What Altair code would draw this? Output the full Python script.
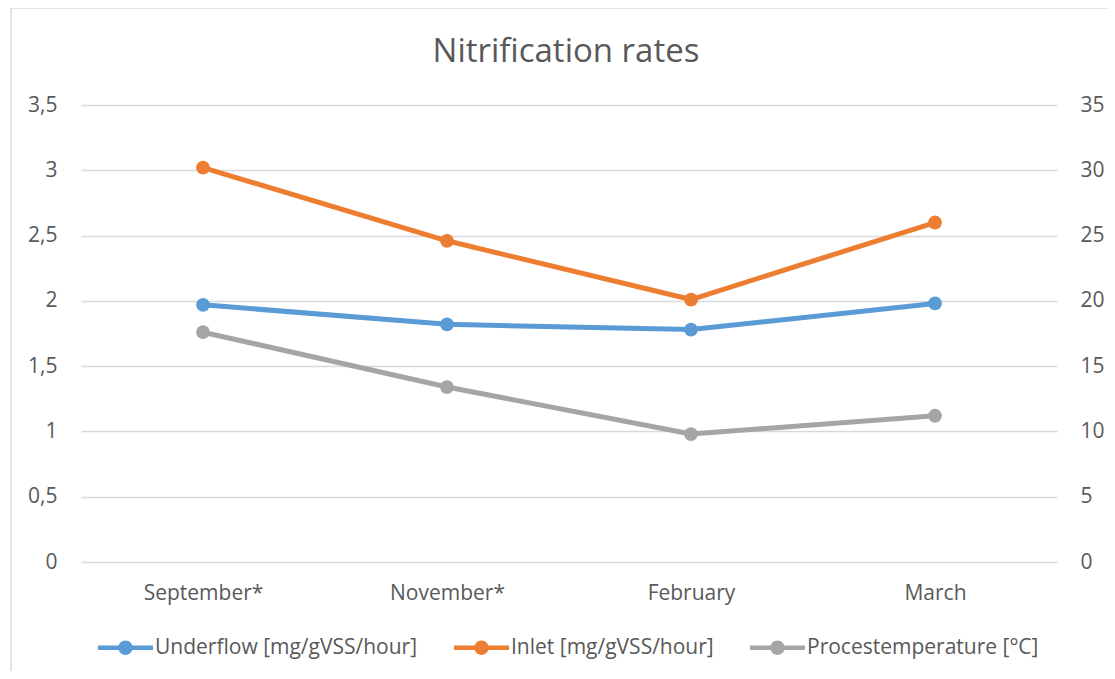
import altair as alt
import pandas as pd

months = ["September*", "November*", "February", "March"]
underflow = [1.97, 1.82, 1.78, 1.98]
inlet = [3.02, 2.46, 2.01, 2.60]
temperature = [17.6, 13.4, 9.8, 11.2]

s_under = "Underflow [mg/gVSS/hour]"
s_inlet = "Inlet [mg/gVSS/hour]"
s_temp = "Procestemperature [°C]"
series_names = [s_under, s_inlet, s_temp]
colors = ["#5B9BD5", "#ED7D31", "#A5A5A5"]
chart_title = "Nitrification rates"

rows = []
for name, vals in [(s_under, underflow), (s_inlet, inlet), (s_temp, temperature)]:
    for m, v in zip(months, vals):
        rows.append({"month": m, "series": name, "value": v})
df = pd.DataFrame(rows)

FONT = "Open Sans"
TXT = "#595959"
GRID = "#D9D9D9"
FS = 21

# legend symbol: line with a dot in the middle
sym = ("M -1 -0.08 L 1 -0.08 L 1 0.08 L -1 0.08 Z "
       "M 0.26 0 A 0.26 0.26 0 1 1 -0.26 0 A 0.26 0.26 0 1 1 0.26 0 Z")

color = alt.Color(
    "series:N",
    scale=alt.Scale(domain=series_names, range=colors),
    legend=alt.Legend(
        title=None, orient="none", legendX=17, legendY=515,
        direction="horizontal", symbolType=sym, symbolSize=3025,
        symbolStrokeWidth=0, labelOffset=2, columnPadding=36, labelLimit=500,
        labelFont=FONT, labelFontSize=FS, labelColor=TXT, padding=0,
    ),
)

x = alt.X("month:N", sort=months, title=None,
          axis=alt.Axis(labelAngle=0, ticks=False, domain=False, labelFont=FONT,
                        labelFontSize=FS, labelColor=TXT, labelPadding=20))

base = alt.Chart(df)

y_left = alt.Y("value:Q", title=None,
               scale=alt.Scale(domain=[0, 3.5], nice=False),
               axis=alt.Axis(values=[0, 0.5, 1, 1.5, 2, 2.5, 3, 3.5], orient="left",
                             labelExpr="replace(toString(datum.value), '.', ',')",
                             ticks=False, domain=False, grid=True, gridColor=GRID,
                             gridWidth=1.3, labelFont=FONT, labelFontSize=FS,
                             labelColor=TXT, labelPadding=24))
y_right = alt.Y("value:Q", title=None,
                scale=alt.Scale(domain=[0, 35], nice=False),
                axis=alt.Axis(values=[0, 5, 10, 15, 20, 25, 30, 35], orient="right",
                              ticks=False, domain=False, grid=False, labelFont=FONT,
                              labelFontSize=FS, labelColor=TXT, labelPadding=23))

left_data = base.transform_filter(alt.FieldOneOfPredicate(field="series", oneOf=[s_under, s_inlet]))
right_data = base.transform_filter(alt.datum.series == s_temp)

line_kw = dict(strokeWidth=5, strokeCap="round", strokeJoin="round")
pt_kw = dict(filled=True, opacity=1, size=190)

left = alt.layer(
    left_data.mark_line(**line_kw).encode(x=x, y=y_left, color=color),
    left_data.mark_point(**pt_kw).encode(x=x, y=y_left, color=color),
)
right = alt.layer(
    right_data.mark_line(**line_kw).encode(x=x, y=y_right, color=color),
    right_data.mark_point(**pt_kw).encode(x=x, y=y_right, color=color),
)

one = alt.Data(values=[{"t": chart_title}])
frame = alt.Chart(one).mark_rect(
    fill=None, stroke=GRID, strokeWidth=1.5
).encode(x=alt.value(-70), x2=alt.value(1200), y=alt.value(-97), y2=alt.value(700))

title_txt = alt.Chart(one).mark_text(
    font=FONT, fontSize=33, color=TXT, align="center", baseline="alphabetic"
).encode(text="t:N", x=alt.value(485), y=alt.value(-43))

chart = alt.layer(frame, title_txt, right, left).resolve_scale(y="independent").properties(
    width=976, height=457,
    padding={"left": 73, "top": 97, "right": 50, "bottom": 109},
    autosize=alt.AutoSizeParams(type="none"),
).configure(background="white", view=alt.ViewConfig(strokeWidth=0, stroke="transparent"))

chart.save("out.html", embed_options={"renderer": "svg", "actions": False})
